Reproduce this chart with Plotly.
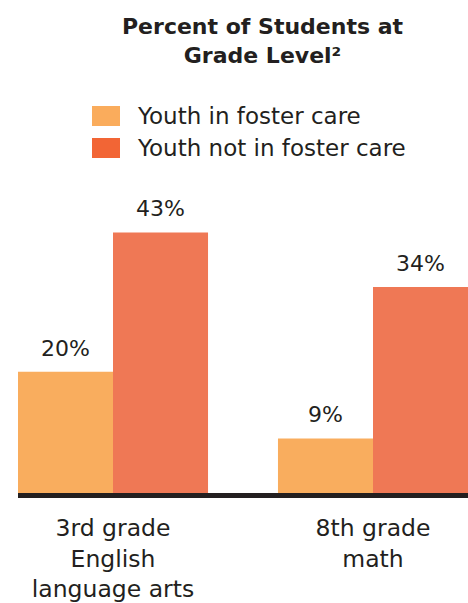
import plotly.graph_objects as go

# Data
categories = ["3rd grade<br>English<br>language arts", "8th grade<br>math"]
series_names = ["Youth in foster care", "Youth not in foster care"]
foster = [20, 9]
not_foster = [43, 34]

bar_colors = ["#F9AD5E", "#EF7855"]
legend_colors = ["#FAAC5C", "#F26535"]
text_color = "#231F20"
font_family = "DejaVu Sans, Verdana, sans-serif"

W, H = 468, 603
ML, MT, MB = 18, 180, 110
PW, PH = W - ML, H - MT - MB


def px_x(x):
    return (x - ML) / PW


def px_y(y):
    return (H - MB - y) / PH


fig = go.Figure()
for name, vals, col in zip(series_names, [foster, not_foster], bar_colors):
    fig.add_trace(go.Bar(
        x=categories, y=vals, name=name, marker=dict(color=col, line=dict(width=0)),
        showlegend=False,
    ))

# Value labels above each bar
bar_shift = 47.5
for shift, vals in zip([-bar_shift, bar_shift], [foster, not_foster]):
    for cat, v in zip(categories, vals):
        fig.add_annotation(
            x=cat, y=v, xref="x", yref="y", text=f"{v}%", showarrow=False,
            xanchor="center", yanchor="bottom", xshift=shift, yshift=9,
            font=dict(size=22, color=text_color, family=font_family),
        )

# Legend drawn as swatches with labels
legend_y = [116, 148]
for name, col, yc in zip(series_names, legend_colors, legend_y):
    fig.add_shape(
        type="rect", xref="paper", yref="paper",
        x0=px_x(92), x1=px_x(120), y0=px_y(yc + 10), y1=px_y(yc - 10),
        fillcolor=col, line=dict(width=0),
    )
    fig.add_annotation(
        xref="paper", yref="paper", x=px_x(135), y=px_y(yc),
        text=name, showarrow=False, xanchor="left", yanchor="middle",
        font=dict(size=23, color=text_color, family=font_family),
    )

# Title
fig.add_annotation(
    xref="paper", yref="paper", x=px_x(263), y=px_y(41),
    text="<b>Percent of Students at<br>Grade Level²</b>", showarrow=False,
    xanchor="center", yanchor="middle",
    font=dict(size=22, color=text_color, family=font_family),
)

fig.update_layout(
    width=W, height=H,
    margin=dict(l=ML, r=0, t=MT, b=MB),
    paper_bgcolor="white", plot_bgcolor="white",
    barmode="group", bargap=0.269, bargroupgap=0,
    xaxis=dict(
        type="category", range=[-0.3654, 1.3654],
        showline=True, linewidth=5, linecolor=text_color,
        showgrid=False, zeroline=False, ticks="", ticklabelstandoff=10,
        tickfont=dict(size=23.5, color=text_color, family=font_family),
    ),
    yaxis=dict(
        range=[0, 51.65], visible=False, showgrid=False, zeroline=False,
    ),
)

fig.write_html("out.html")
